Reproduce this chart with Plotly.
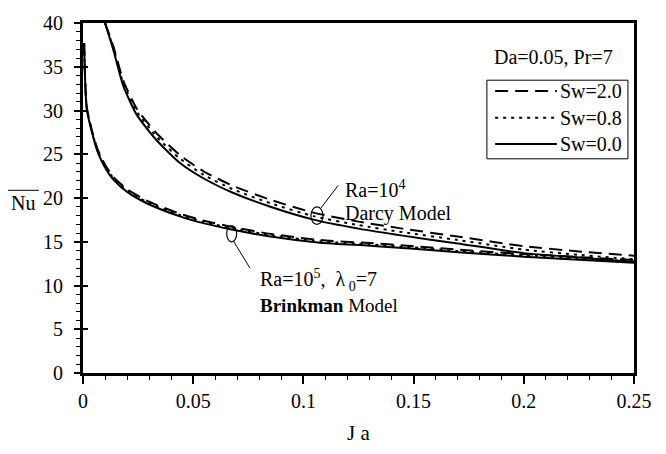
import plotly.graph_objects as go

# Darcy model (Ra=1e4): Ja values and mean Nusselt number for each Sw
ja_darcy = [0.010, 0.0138, 0.0183, 0.0244, 0.0334, 0.044, 0.055, 0.068, 0.085,
            0.105, 0.125, 0.145, 0.17, 0.20, 0.225, 0.25]
nu_darcy_sw00 = [40.0, 36.9, 32.8, 29.5, 26.6, 24.0, 22.2, 20.6, 19.0,
                 17.5, 16.5, 15.7, 14.8, 13.7, 13.2, 12.7]
nu_darcy_sw08 = [40.0, 37.1, 33.1, 29.9, 27.0, 24.5, 22.6, 21.0, 19.4,
                 17.9, 16.9, 16.1, 15.2, 14.1, 13.5, 13.0]
nu_darcy_sw20 = [40.0, 37.3, 33.4, 30.2, 27.4, 24.9, 23.0, 21.4, 19.8,
                 18.3, 17.3, 16.5, 15.6, 14.5, 13.9, 13.4]

# Brinkman model (Ra=1e5, lambda0=7)
ja_brink = [0.0005, 0.0017, 0.0047, 0.0069, 0.0100, 0.0138, 0.020, 0.0289, 0.044,
            0.055, 0.0675, 0.085, 0.1075, 0.13, 0.15, 0.17, 0.20, 0.225, 0.25]
nu_brink_sw00 = [37.7, 30.2, 26.9, 25.1, 23.5, 22.1, 20.7, 19.4, 17.9,
                 17.1, 16.4, 15.6, 14.9, 14.55, 14.2, 13.8, 13.3, 12.95, 12.6]
nu_brink_sw08 = [37.7, 30.3, 27.0, 25.25, 23.65, 22.25, 20.85, 19.55, 18.05,
                 17.25, 16.55, 15.75, 15.05, 14.7, 14.35, 13.95, 13.45, 13.1, 12.75]
nu_brink_sw20 = [37.7, 30.4, 27.1, 25.4, 23.8, 22.4, 21.0, 19.7, 18.2,
                 17.4, 16.7, 15.9, 15.2, 14.85, 14.5, 14.1, 13.6, 13.25, 12.9]

x_ticks = [0, 0.05, 0.1, 0.15, 0.2, 0.25]
x_tick_text = ["0", "0.05", "0.1", "0.15", "0.2", "0.25"]
y_ticks = [0, 5, 10, 15, 20, 25, 30, 35, 40]

legend_labels = ["Sw=2.0", "Sw=0.8", "Sw=0.0"]

FONT = "Liberation Serif, Times New Roman, serif"
FS = 20
DASH = "13px,7px"
DOT = "3px,5px"


def tfont(size=FS):
    return dict(family=FONT, size=size, color="black")


fig = go.Figure()

styles = {"Sw=2.0": DASH, "Sw=0.8": DOT, "Sw=0.0": "solid"}
for ja, series in ((ja_darcy, [nu_darcy_sw20, nu_darcy_sw08, nu_darcy_sw00]),
                   (ja_brink, [nu_brink_sw20, nu_brink_sw08, nu_brink_sw00])):
    for lab, nu in zip(legend_labels, series):
        fig.add_trace(go.Scatter(
            x=ja, y=nu, mode="lines", name=lab, showlegend=False,
            line=dict(color="black", width=2, dash=styles[lab], shape="spline", smoothing=0.6),
        ))

# invisible trace that carries the inward half of the major y ticks
fig.add_trace(go.Scatter(x=[0], y=[0], yaxis="y2", mode="markers",
                         marker=dict(opacity=0), showlegend=False, hoverinfo="skip"))

shapes = []
annotations = []

# legend box drawn by hand so the line samples can be long
lx0, lx1, ly0, ly1 = 0.733, 0.989, 0.612, 0.8366
shapes.append(dict(type="rect", xref="paper", yref="paper", x0=lx0, x1=lx1, y0=ly0, y1=ly1,
                   line=dict(color="black", width=1), fillcolor="white", layer="above"))
for lab, yy in zip(legend_labels, [0.806, 0.729, 0.654]):
    shapes.append(dict(type="line", xref="paper", yref="paper", x0=0.748, x1=0.860, y0=yy, y1=yy,
                       line=dict(color="black", width=2, dash=styles[lab])))
    annotations.append(dict(xref="paper", yref="paper", x=0.862, y=yy, text=lab, showarrow=False,
                            xanchor="left", yanchor="middle", font=tfont()))

annotations.append(dict(xref="paper", yref="paper", x=0.853, y=0.903, text="Da=0.05, Pr=7",
                        showarrow=False, xanchor="center", yanchor="middle", font=tfont()))

# Darcy label, ellipse and leader
annotations.append(dict(x=0.1178, y=21.0, text="Ra=10<sup>4</sup>", showarrow=False,
                        xanchor="left", yanchor="middle", font=tfont()))
annotations.append(dict(x=0.1178, y=18.25, text="Darcy Model", showarrow=False,
                        xanchor="left", yanchor="middle", font=tfont()))
shapes.append(dict(type="circle", xref="x", yref="y", x0=0.1034, x1=0.1089, y0=16.99, y1=18.98,
                   line=dict(color="black", width=1.2)))
shapes.append(dict(type="line", xref="x", yref="y", x0=0.1078, x1=0.1158, y0=18.80, y1=21.44,
                   line=dict(color="black", width=1)))

# Brinkman label, ellipse and leader
annotations.append(dict(x=0.0795, y=10.67, text="Ra=10<sup>5</sup>,  λ<sub> 0</sub>=7", showarrow=False,
                        xanchor="left", yanchor="middle", font=tfont()))
annotations.append(dict(x=0.0795, y=7.76, text="<b>Brinkman</b> Model", showarrow=False,
                        xanchor="left", yanchor="middle", font=tfont(19)))
shapes.append(dict(type="circle", xref="x", yref="y", x0=0.0652, x1=0.0697, y0=14.98, y1=16.86,
                   line=dict(color="black", width=1.2)))
shapes.append(dict(type="line", xref="x", yref="y", x0=0.0682, x1=0.0758, y0=15.10, y1=11.97,
                   line=dict(color="black", width=1)))

# y axis title: Nu with an overbar
annotations.append(dict(xref="paper", yref="paper", x=-0.108, y=0.487, text="Nu", showarrow=False,
                        xanchor="center", yanchor="middle", font=tfont(FS)))
shapes.append(dict(type="line", xref="paper", yref="paper", x0=-0.136, x1=-0.080, y0=0.522, y1=0.522,
                   line=dict(color="black", width=1)))

# x axis title
annotations.append(dict(xref="paper", yref="paper", x=0.5, y=-0.172, text="J a", showarrow=False,
                        xanchor="center", yanchor="middle", font=tfont(FS + 1)))

fig.update_layout(
    width=666, height=454,
    margin=dict(l=83, r=32, t=12, b=81),
    paper_bgcolor="white", plot_bgcolor="white",
    showlegend=False,
    font=tfont(),
    shapes=shapes, annotations=annotations,
    xaxis=dict(range=[0, 0.25], tickvals=x_ticks, ticktext=x_tick_text,
               showgrid=False, zeroline=False, showline=True, linewidth=3, linecolor="black",
               mirror=True, ticks="outside", ticklen=8, tickwidth=1.5, tickcolor="black",
               minor=dict(dtick=0.01, ticks="outside", ticklen=4, tickwidth=1, tickcolor="black"),
               tickfont=tfont(), ticklabelstandoff=0),
    yaxis=dict(range=[0, 40], tickvals=y_ticks,
               showgrid=False, zeroline=False, showline=True, linewidth=3, linecolor="black",
               mirror=True, ticks="outside", ticklen=6, tickwidth=1.5, tickcolor="black",
               minor=dict(dtick=1, ticks="outside", ticklen=4, tickwidth=1, tickcolor="black"),
               tickfont=tfont(), ticklabelstandoff=7),
    yaxis2=dict(range=[0, 40], overlaying="y", side="left", tickvals=y_ticks,
                showticklabels=False, showgrid=False, zeroline=False, showline=False,
                ticks="inside", ticklen=5, tickwidth=1.5, tickcolor="black"),
)

fig.write_html("out.html")
